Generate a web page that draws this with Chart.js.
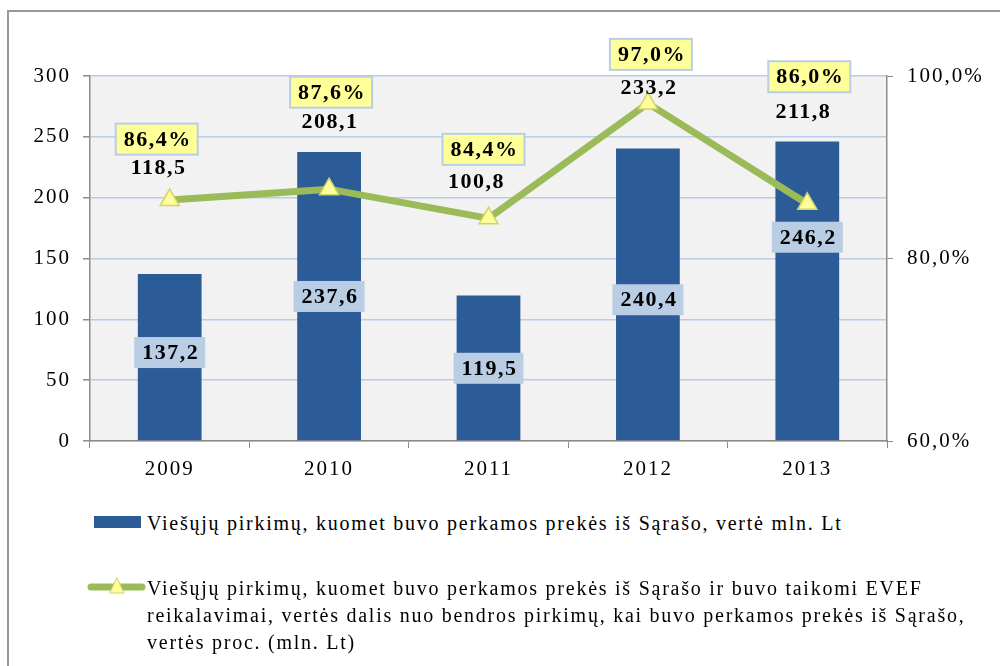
<!DOCTYPE html>
<html>
<head>
<meta charset="utf-8">
<script src="https://cdn.jsdelivr.net/npm/chart.js@4"></script>
<style>
  body { margin: 0; background: #fff; width: 1000px; height: 666px; overflow: hidden; position: relative; }
  #frame { position: absolute; left: 7px; top: 10px; width: 1010px; height: 680px; border: 2px solid #999; box-sizing: border-box; }
  #chart { position: absolute; left: 0; top: 0; }
  .leg { position: absolute; font-family: "Liberation Serif", "Times New Roman", serif; font-size: 20px; color: #000;
         letter-spacing: 1.75px; white-space: nowrap; line-height: 27px; }
  .sw-bar { position: absolute; left: 94px; top: 516px; width: 47px; height: 12px; background: #2c5c97; }
</style>
</head>
<body>
<div id="frame"></div>
<canvas id="chart" width="1000" height="480"></canvas>
<div class="sw-bar"></div>
<canvas id="swLine" width="64" height="24" style="position:absolute;left:84px;top:575px;"></canvas>
<div class="leg" style="left:147px; top:510px;">Viešųjų pirkimų, kuomet buvo perkamos prekės iš Sąrašo, vertė mln. Lt</div>
<div class="leg" style="left:147px; top:575px;">Viešųjų pirkimų, kuomet buvo perkamos prekės iš Sąrašo ir buvo taikomi EVEF<br>reikalavimai, vertės dalis nuo bendros pirkimų, kai buvo perkamos prekės iš Sąrašo,<br>vertės proc. (mln. Lt)</div>
<script>
// chart data
const years = ['2009', '2010', '2011', '2012', '2013'];
const totalValues = [137.2, 237.6, 119.5, 240.4, 246.2];     // mln. Lt, bars
const evefShare = [86.4, 87.6, 84.4, 97.0, 86.0];             // %, line
const evefValues = [118.5, 208.1, 100.8, 233.2, 211.8];       // mln. Lt, shown over the line
const leftTicks = [0, 50, 100, 150, 200, 250, 300];
const rightTicks = [60, 80, 100];

// hand placed label offsets (px), like in the original Excel chart
const barLabelShift = [-5, 0, 0, 5, -54];
const pctLabelShift = [[-13, -61], [2, -97], [-5, -69], [3, -49], [2, -127]];
const numLabelShift = [[-12, -32], [0, -67], [-13, -36], [0, -15], [-5, -91]];

const fmt = (v, d) => v.toFixed(d).replace('.', ',');
const labelFont = 'bold 22px "Liberation Serif", "Times New Roman", serif';
const tickFont = { family: '"Liberation Serif", "Times New Roman", serif', size: 21 };

// the Excel picture has wide-set text, so spread the letters a bit
const plotBg = {
    id: 'plotBg',
    beforeDraw(chart) {
        const a = chart.chartArea, ctx = chart.ctx;
        ctx.letterSpacing = '2px';
        ctx.save();
        ctx.fillStyle = '#f2f2f2';
        ctx.fillRect(a.left, a.top, a.right - a.left, a.bottom - a.top);
        ctx.restore();
    }
};

function box(ctx, cx, cy, text, fill, stroke) {
    ctx.font = labelFont;
    const w = ctx.measureText(text).width + 14, h = 31;
    ctx.fillStyle = fill;
    ctx.fillRect(cx - w / 2, cy - h / 2, w, h);
    if (stroke) {
        ctx.strokeStyle = stroke;
        ctx.lineWidth = 2;
        ctx.strokeRect(cx - w / 2, cy - h / 2, w, h);
    }
    ctx.fillStyle = '#000';
    ctx.textAlign = 'center';
    ctx.textBaseline = 'middle';
    ctx.fillText(text, cx + 1, cy + 1);
}

const dataLabels = {
    id: 'dataLabels',
    afterDatasetsDraw(chart) {
        const ctx = chart.ctx;
        const yS = chart.scales.y;
        ctx.save();
        ctx.letterSpacing = '1.5px';
        chart.getDatasetMeta(1).data.forEach((bar, i) => {
            const cy = (bar.y + yS.getPixelForValue(0)) / 2 + barLabelShift[i];
            box(ctx, bar.x, cy, fmt(totalValues[i], 1), '#b9cde5', null);
        });
        chart.getDatasetMeta(0).data.forEach((pt, i) => {
            box(ctx, pt.x + pctLabelShift[i][0], pt.y + pctLabelShift[i][1], fmt(evefShare[i], 1) + '%', '#ffff99', '#b9cde5');
            ctx.font = labelFont;
            ctx.fillStyle = '#000';
            ctx.fillText(fmt(evefValues[i], 1), pt.x + numLabelShift[i][0] + 1, pt.y + numLabelShift[i][1]);
        });
        ctx.restore();
    }
};

new Chart(document.getElementById('chart'), {
    data: {
        labels: years,
        datasets: [
            {
                type: 'line',
                label: 'EVEF dalis',
                data: evefShare,
                yAxisID: 'y1',
                borderColor: '#9bbb59',
                borderWidth: 7,
                tension: 0,
                pointStyle: 'triangle',
                pointRadius: 11,
                pointHoverRadius: 11,
                pointBackgroundColor: '#ffff99',
                pointBorderColor: '#d2d26e',
                pointBorderWidth: 1.5,
                order: 0
            },
            {
                type: 'bar',
                label: 'Vertė',
                data: totalValues,
                yAxisID: 'y',
                backgroundColor: '#2c5c97',
                barPercentage: 0.5,
                categoryPercentage: 0.8,
                order: 1
            }
        ]
    },
    options: {
        responsive: false,
        devicePixelRatio: 1,
        animation: false,
        layout: { padding: { top: 76, left: 0, right: 0, bottom: 0 } },
        plugins: { legend: { display: false }, tooltip: { enabled: false } },
        scales: {
            x: {
                grid: { offset: true, drawOnChartArea: false, tickLength: 7, tickColor: '#8c8c8c' },
                border: { color: '#8c8c8c', width: 1.5 },
                ticks: { color: '#000', font: { family: tickFont.family, size: 21 }, padding: 9 },
                afterFit(s) { s.height = 39; }
            },
            y: {
                position: 'left',
                min: 0, max: 300,
                afterBuildTicks(s) { s.ticks = leftTicks.map(v => ({ value: v })); },
                grid: { color: '#b9cde5', lineWidth: 1.5, tickLength: 7, tickColor: '#8c8c8c' },
                border: { color: '#8c8c8c', width: 1.5 },
                ticks: { color: '#000', font: tickFont, padding: 12 },
                afterFit(s) { s.width = 90; }
            },
            y1: {
                position: 'right',
                min: 60, max: 100,
                afterBuildTicks(s) { s.ticks = rightTicks.map(v => ({ value: v })); },
                grid: { drawOnChartArea: false, tickLength: 6, tickColor: '#8c8c8c' },
                border: { color: '#8c8c8c', width: 1.5 },
                ticks: { color: '#000', font: tickFont, padding: 14, callback: v => fmt(v, 1) + '%' },
                afterFit(s) { s.width = 113; }
            }
        }
    },
    plugins: [plotBg, dataLabels]
});

// legend line swatch
const sw = document.getElementById('swLine').getContext('2d');
sw.strokeStyle = '#9bbb59';
sw.lineWidth = 7;
sw.lineCap = 'round';
sw.beginPath(); sw.moveTo(7, 12); sw.lineTo(58, 12); sw.stroke();
sw.fillStyle = '#ffff99';
sw.strokeStyle = '#d2d26e';
sw.lineWidth = 1;
sw.beginPath(); sw.moveTo(33, 3); sw.lineTo(40, 18); sw.lineTo(26, 18); sw.closePath(); sw.fill(); sw.stroke();
</script>
</body>
</html>
